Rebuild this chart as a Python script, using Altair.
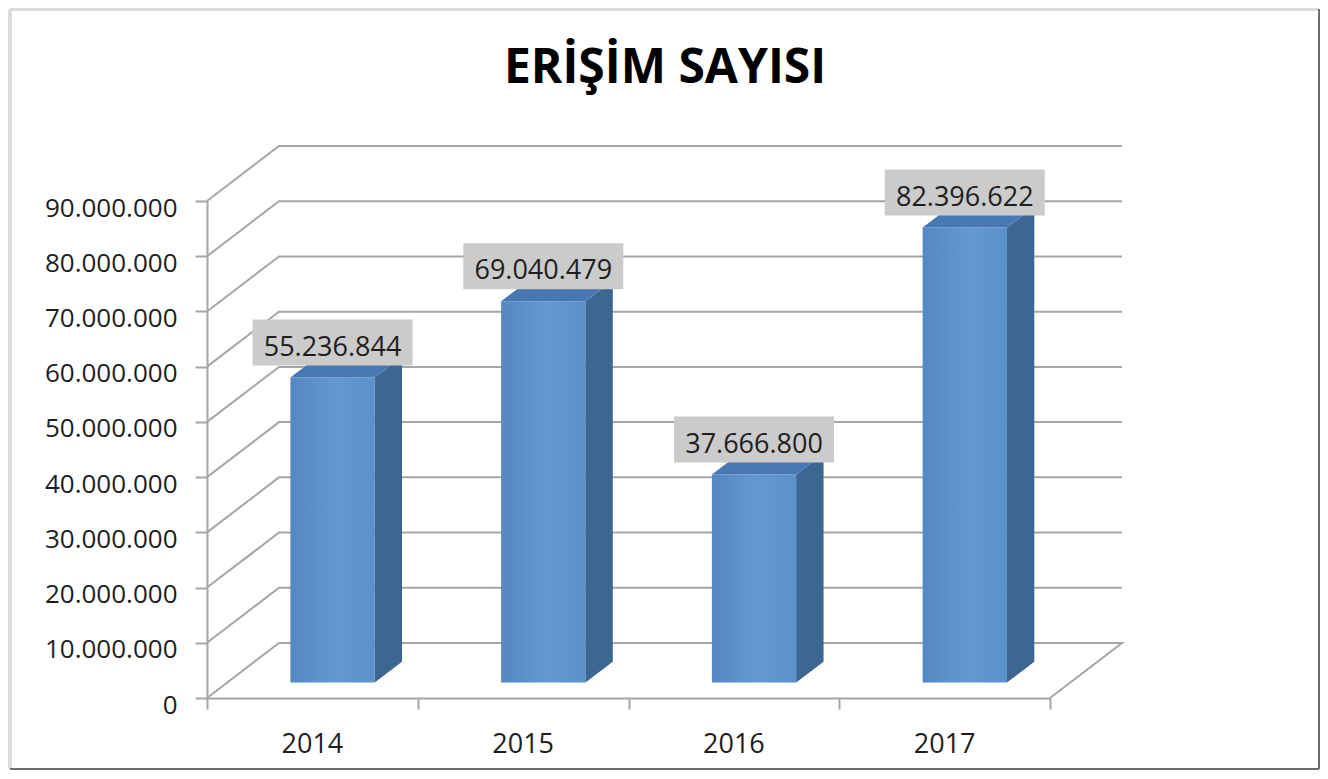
import altair as alt
import pandas as pd

# ---------------- data ----------------
years = ["2014", "2015", "2016", "2017"]
values = [55236844, 69040479, 37666800, 82396622]
y_ticks = [0, 10000000, 20000000, 30000000, 40000000,
           50000000, 60000000, 70000000, 80000000, 90000000]
x_edges = [0, 1, 2, 3, 4]
title_text = "ERİŞİM SAYISI"

# ---------------- geometry helpers (data units) ----------------
PLOT_W, PLOT_H = 843, 497
Y_MAX = 90_000_000
PX_X = PLOT_W / 4.0          # px per category
PX_Y = PLOT_H / Y_MAX        # px per value unit
DU = 72 / PX_X               # depth offset along x (category units)
DV = 55 / PX_Y               # depth offset along y (value units)
F0 = 0.28                    # depth where bar front sits
S = 0.38                     # bar depth (fraction of full depth)
HALF = 0.2                   # half bar width (category units)
LABEL_UP = 35 / PX_Y
BOX_HALF_H = 23 / PX_Y
BOX_HALF_W = 80 / PX_X

FONT = "Open Sans"
GRID = "#a6a6a6"
TXT = "#1e1e1e"

xs = alt.Scale(domain=[0, 4], nice=False, zero=False)
ys = alt.Scale(domain=[0, Y_MAX], nice=False, zero=False)

x_axis = alt.Axis(values=x_edges, labels=False, ticks=True, tickSize=11,
                  tickColor=GRID, tickWidth=2, domain=True, domainColor=GRID,
                  domainWidth=2, grid=False, title=None)
y_axis = alt.Axis(values=y_ticks,
                  labelExpr="replace(format(datum.value, ','), regexp(',', 'g'), '.')",
                  labelFont=FONT, labelFontSize=26, labelColor=TXT,
                  labelPadding=18, labelBaseline="alphabetic", labelOffset=15,
                  labelFlush=False, labelOverlap=False,
                  ticks=True, tickSize=12, tickColor=GRID, tickWidth=2,
                  domain=True, domainColor=GRID, domainWidth=2,
                  grid=False, title=None)


def X(f):
    return alt.X(f, scale=xs, axis=x_axis)


def Y(f):
    return alt.Y(f, scale=ys, axis=y_axis)


# ---------------- back wall grid lines + floor ----------------
grid_rows = []
for g, v in enumerate(y_ticks):
    pts = [(0, v), (DU, v + DV), (4 + DU, v + DV)]
    if v == 0:
        pts.append((4, 0))
    for k, (gx, gy) in enumerate(pts):
        grid_rows.append({"g": g, "k": k, "x": gx, "y": gy})
grid = alt.Chart(pd.DataFrame(grid_rows)).mark_line(
    color=GRID, strokeWidth=2
).encode(x=X("x:Q"), y=Y("y:Q"), detail="g:N", order="k:Q")

# ---------------- bars ----------------
front_rows, side_rows, top_rows, lab_rows = [], [], [], []
for i, (yr, v) in enumerate(zip(years, values)):
    xl = i + 0.5 + F0 * DU - HALF
    xr = i + 0.5 + F0 * DU + HALF
    b0 = F0 * DV
    t0 = v + F0 * DV
    front_rows.append({"year": yr, "xl": xl, "xr": xr, "ylo": b0, "yhi": t0})
    side_rows.append({"year": yr, "x": xr, "ylo": b0, "yhi": t0})
    side_rows.append({"year": yr, "x": xr + S * DU, "ylo": b0 + S * DV, "yhi": t0 + S * DV})
    top_rows.append({"year": yr, "y": t0, "xlo": xl, "xhi": xr})
    top_rows.append({"year": yr, "y": t0 + S * DV, "xlo": xl + S * DU, "xhi": xr + S * DU})
    cx = (xl + xr) / 2
    cy = t0 + LABEL_UP
    lab_rows.append({"year": yr, "cx": cx, "cy": cy,
                     "bx1": cx - BOX_HALF_W, "bx2": cx + BOX_HALF_W,
                     "by1": cy - BOX_HALF_H, "by2": cy + BOX_HALF_H,
                     "label": f"{v:,}".replace(",", "."), "xc": i + 0.5, "zero": 0})

front_grad = alt.Gradient(
    gradient="linear",
    stops=[alt.GradientStop(color="#5587c2", offset=0),
           alt.GradientStop(color="#6399d1", offset=0.55),
           alt.GradientStop(color="#5b91cb", offset=1)],
    x1=0, x2=1, y1=0, y2=0)

front = alt.Chart(pd.DataFrame(front_rows)).mark_rect(
    fill=front_grad, stroke=None
).encode(x=X("xl:Q"), x2="xr:Q", y=Y("ylo:Q"), y2="yhi:Q")

side = alt.Chart(pd.DataFrame(side_rows)).mark_area(
    color="#3d6692", orient="vertical"
).encode(x=X("x:Q"), y=Y("yhi:Q"), y2="ylo:Q", detail="year:N")

top = alt.Chart(pd.DataFrame(top_rows)).mark_area(
    color="#4878b2", orient="horizontal"
).encode(y=Y("y:Q"), x=X("xlo:Q"), x2="xhi:Q", detail="year:N")

lab_df = pd.DataFrame(lab_rows)
boxes = alt.Chart(lab_df).mark_rect(color="#cbcbcb").encode(
    x=X("bx1:Q"), x2="bx2:Q", y=Y("by1:Q"), y2="by2:Q")
texts = alt.Chart(lab_df).mark_text(
    font=FONT, fontSize=27, color=TXT, baseline="alphabetic", align="center", dy=13
).encode(x=X("cx:Q"), y=Y("cy:Q"), text="label:N")

xlabels = alt.Chart(lab_df).mark_text(
    font=FONT, fontSize=27, color=TXT, baseline="alphabetic", align="center", dy=55
).encode(x=X("xc:Q"), y=Y("zero:Q"), text="year:N")

title = alt.Chart(pd.DataFrame({"t": [title_text]})).mark_text(
    font=FONT, fontSize=48, fontWeight="bold", color="#000000",
    baseline="alphabetic", align="center"
).encode(x=alt.value(458), y=alt.value(-118), text="t:N")

# outer frame (page border)
frame_df = pd.DataFrame({"k": [0]})
frame_lt = alt.Chart(frame_df).mark_rule(color="#dcdcdc", strokeWidth=4).encode(
    x=alt.value(-197), y=alt.value(-192), y2=alt.value(568))
frame_tp = alt.Chart(frame_df).mark_rule(color="#dcdcdc", strokeWidth=4).encode(
    x=alt.value(-197), x2=alt.value(1112), y=alt.value(-192))
frame_rt = alt.Chart(frame_df).mark_rule(color="#6e6e6e", strokeWidth=2).encode(
    x=alt.value(1112), y=alt.value(-192), y2=alt.value(568))
frame_bt = alt.Chart(frame_df).mark_rule(color="#6e6e6e", strokeWidth=2).encode(
    x=alt.value(-197), x2=alt.value(1112), y=alt.value(568))

chart = alt.layer(
    frame_lt, frame_tp, frame_rt, frame_bt,
    grid, front, side, top, boxes, texts, xlabels, title
).properties(
    width=PLOT_W, height=PLOT_H,
    padding={"left": 199, "top": 193, "right": 270, "bottom": 73},
    autosize=alt.AutoSizeParams(type="none"),
    background="white",
).configure_view(stroke=None)

chart.save("out.html", embed_options={"renderer": "svg", "actions": False})
